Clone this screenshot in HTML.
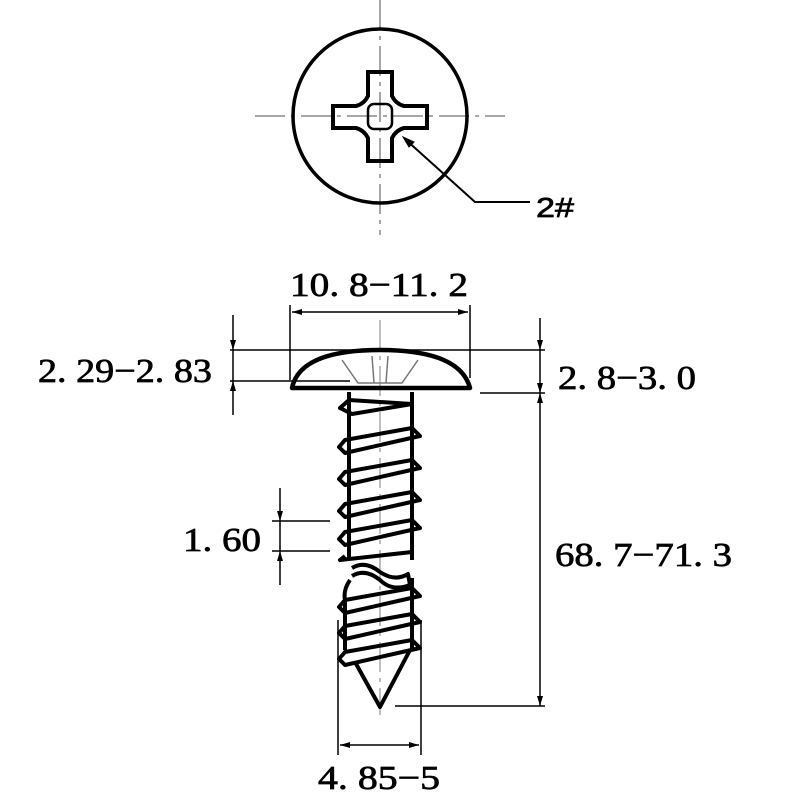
<!DOCTYPE html>
<html><head><style>html,body{margin:0;padding:0;background:#fff}svg{display:block}</style></head>
<body>
<svg width="800" height="800" viewBox="0 0 800 800" xmlns="http://www.w3.org/2000/svg">
<g fill="none" stroke="#000">
<!-- top view -->
<line x1="380" y1="0" x2="380" y2="235" stroke="#888" stroke-width="1.5" stroke-dasharray="30,6,4,6"/>
<line x1="255" y1="116" x2="505" y2="116" stroke="#888" stroke-width="1.5" stroke-dasharray="30,6,4,6"/>
<circle cx="380" cy="116" r="87" stroke-width="3.5"/>
<path d="M368,72 H392 V96 Q396,104 404,106 H427 V128 H404 Q396,130 392,138 V161 H368 V138 Q364,130 356,128 H333 V106 H356 Q364,104 368,96 Z" stroke-width="4"/>
<rect x="368" y="104" width="24" height="25" rx="6" stroke-width="2.5"/>
<polyline points="405,139 475,202 530,202" stroke-width="2"/>
<path d="M403,137 L414,142 L409,147 Z" fill="#000"/>
<!-- side view centerline -->
<line x1="380" y1="320" x2="380" y2="715" stroke="#aaa" stroke-width="1.5" stroke-dasharray="30,6,4,6"/>
<!-- head -->
<path d="M292,388 Q300,350 380,350 Q460,350 470,388 Z" stroke-width="4.5" stroke-linejoin="round"/>
<path d="M342,360 L358,383 H402 L418,360 M372,356 L374,383 M388,356 L386,383" stroke="#777" stroke-width="1.5"/>
<!-- shank -->
<path d="M349,392 V560 M412,392 V560 M350,580 Q343,590 345,600 V650 M412,578 V650" stroke-width="4"/>
<g stroke-width="4" stroke-linejoin="round">
<path d="M349,400 L340,408 L352,414 L412,404 L349,400"/>
<path d="M345,440 L339,447 L345,453 L420,436 L412,428 Z"/>
<path d="M345,472 L339,479 L345,485 L420,468 L412,460 Z"/>
<path d="M345,504 L339,511 L345,517 L420,500 L412,492 Z"/>
<path d="M345,532 L339,539 L345,545 L420,528 L412,520 Z"/>
<path d="M345,556 L340,560 L412,552"/>
<path d="M352,568 Q365,560 380,572 Q395,582 408,574 L410,585 Q392,592 380,580 Q365,568 352,576"/>
<path d="M345,600 L339,607 L345,613 L420,596 L412,588 Z"/>
<path d="M345,626 L339,633 L345,639 L420,622 L412,614 Z"/>
<path d="M345,652 L339,659 L345,665 L420,648 L412,640 Z"/>
<path d="M355,662 L380,707 L410,650"/>
</g>
<!-- dims -->
<g stroke-width="1.5">
<line x1="290" y1="305" x2="290" y2="380"/><line x1="470" y1="305" x2="470" y2="378"/>
<line x1="292" y1="312" x2="468" y2="312"/>
<line x1="230" y1="350" x2="545" y2="350"/>
<line x1="230" y1="381" x2="350" y2="381"/>
<line x1="480" y1="393" x2="545" y2="393"/>
<line x1="233" y1="315" x2="233" y2="415"/>
<line x1="540" y1="318" x2="540" y2="706"/>
<line x1="395" y1="706" x2="545" y2="706"/>
<line x1="272" y1="521" x2="330" y2="521"/><line x1="272" y1="551" x2="330" y2="551"/>
<line x1="280" y1="488" x2="280" y2="585"/>
<line x1="338" y1="620" x2="338" y2="755"/><line x1="421" y1="620" x2="421" y2="755"/>
<line x1="340" y1="745" x2="419" y2="745"/>
</g>
</g>
<g fill="#000">
<path d="M292,312 l10,-3 v6 Z M468,312 l-10,-3 v6 Z"/>
<path d="M233,350 l-3,-10 h6 Z M233,381 l-3,10 h6 Z"/>
<path d="M540,350 l-3,-10 h6 Z M540,393 l-3,10 h6 Z M540,393 l-3,-10 h6 Z M540,706 l-3,-10 h6 Z"/>
<path d="M280,521 l-3,-10 h6 Z M280,551 l-3,10 h6 Z"/>
<path d="M340,745 l10,-3 v6 Z M419,745 l-10,-3 v6 Z"/>
</g>
<g font-family="Liberation Serif, serif" font-size="34" fill="#000" stroke="#000" stroke-width="0.7">
<text x="536" y="217" font-family="Liberation Sans, sans-serif" font-size="28" textLength="38" lengthAdjust="spacingAndGlyphs">2#</text>
<text x="290" y="296" textLength="178" lengthAdjust="spacingAndGlyphs">10. 8−11. 2</text>
<text x="38" y="382" textLength="174" lengthAdjust="spacingAndGlyphs">2. 29−2. 83</text>
<text x="558" y="389" textLength="138" lengthAdjust="spacingAndGlyphs">2. 8−3. 0</text>
<text x="555" y="566" textLength="177" lengthAdjust="spacingAndGlyphs">68. 7−71. 3</text>
<text x="183" y="551" textLength="78" lengthAdjust="spacingAndGlyphs">1. 60</text>
<text x="318" y="789" textLength="122" lengthAdjust="spacingAndGlyphs">4. 85−5</text>
</g>
</svg>
</body></html>
